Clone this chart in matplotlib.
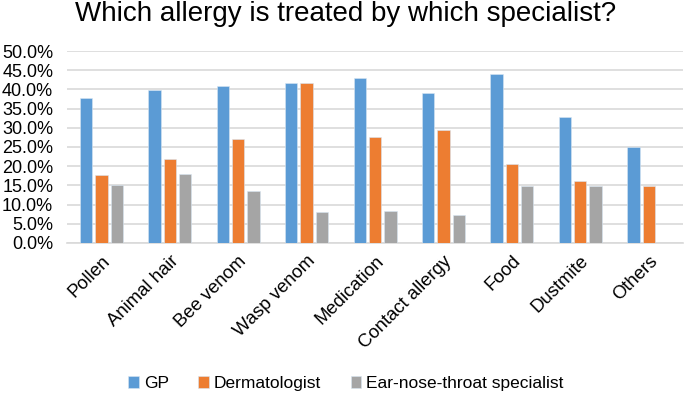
import matplotlib
matplotlib.use("Agg")
import matplotlib.pyplot as plt
import numpy as np
from matplotlib.ticker import FuncFormatter, MultipleLocator

plt.rcParams['font.family'] = ['Liberation Sans', 'DejaVu Sans']

categories = ["Pollen", "Animal hair", "Bee venom", "Wasp venom", "Medication",
              "Contact allergy", "Food", "Dustmite", "Others"]
gp = [37.7, 39.9, 40.8, 41.7, 43.1, 39.0, 44.1, 32.8, 25.0]
dermatologist = [17.8, 21.9, 27.1, 41.7, 27.5, 29.3, 20.5, 16.2, 14.8]
ent = [15.1, 17.9, 13.4, 8.1, 8.4, 7.2, 14.7, 14.7, 0.0]
series_names = ["GP", "Dermatologist", "Ear-nose-throat specialist"]
colors = ["#5B9BD5", "#ED7D31", "#A5A5A5"]

fig = plt.figure(figsize=(6.85, 3.93), dpi=100)
ax = fig.add_axes([0.098, 0.382, 0.899, 0.488])

x = np.arange(len(categories))
w = 0.18
off = 0.224
for i, (vals, name, c) in enumerate(zip([gp, dermatologist, ent], series_names, colors)):
    ax.bar(x + (i - 1) * off, vals, width=w, color=c, label=name,
           edgecolor="#d8e6f3", linewidth=0.4, zorder=3)

ax.set_xlim(-0.5, len(categories) - 0.5)
ax.set_ylim(0, 50)
ax.yaxis.set_major_locator(MultipleLocator(5))
ax.yaxis.set_major_formatter(FuncFormatter(lambda v, p: f"{v:.1f}%"))
ax.grid(axis='y', color="#d9d9d9", linewidth=1.2, zorder=0)
for s in ["top", "right", "left"]:
    ax.spines[s].set_visible(False)
ax.spines["bottom"].set_color("#d9d9d9")
ax.spines["bottom"].set_linewidth(1.2)
ax.tick_params(axis='both', length=0, colors="black")
ax.tick_params(axis='y', pad=10, labelsize=13)
ax.tick_params(axis='x', pad=7, labelsize=13.3)
ax.set_xticks(x)
ax.set_xticklabels(categories, rotation=45, ha='right', rotation_mode='anchor')

fig.text(0.505, 0.997, "Which allergy is treated by which specialist?",
         fontsize=20, ha='center', va='top')
fig.legend(loc="lower center", ncol=3, frameon=False, fontsize=12.5,
           bbox_to_anchor=(0.505, -0.035), handlelength=0.6, handleheight=0.6,
           handletextpad=0.3, columnspacing=1.7)

fig.savefig("out.png", dpi=100)
